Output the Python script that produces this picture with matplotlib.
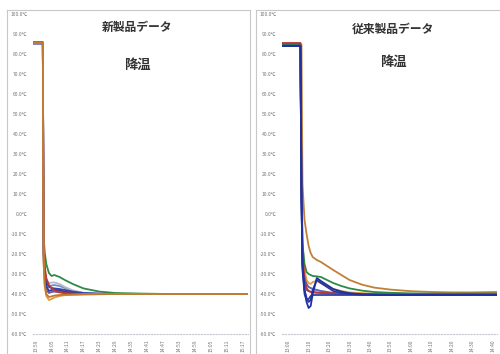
import matplotlib.pyplot as plt

plt.rcParams['font.family'] = ['Noto Sans CJK JP', 'DejaVu Sans']

# y axis (both charts)
y_ticks = [100, 90, 80, 70, 60, 50, 40, 30, 20, 10, 0, -10, -20, -30, -40, -50, -60]

# ---- new product (left) ----
left_title = "新製品データ"
left_ticks = [0, 6, 12, 18, 24, 30, 36, 42, 48, 54, 60, 66, 72, 78]
left_labels = ["13:59", "14:05", "14:11", "14:17", "14:23", "14:29", "14:35",
               "14:41", "14:47", "14:53", "14:59", "15:05", "15:11", "15:17"]
t_left = [-1, 2.7, 3.0, 3.4, 4, 5, 6, 7, 9, 11, 14, 18, 24, 30, 40, 50, 60, 70, 80]
left_series = {
    "#2e8a45": [86.0, 86.0, -11.0, -19.0, -25.0, -29.5, -31.0, -30.5, -31.5, -33.0, -35.0, -37.2, -38.8, -39.5, -39.8, -40.0, -40.0, -40.0, -40.0],
    "#6f8fc8": [85.4, 85.4, -20.0, -30.0, -35.0, -36.0, -35.8, -35.5, -36.0, -37.0, -38.5, -39.5, -39.9, -40.0, -40.0, -40.0, -40.0, -40.0, -40.0],
    "#b8b8c8": [85.4, 85.4, -20.0, -29.0, -33.5, -34.5, -34.3, -34.2, -35.0, -36.5, -38.2, -39.4, -39.9, -40.0, -40.0, -40.0, -40.0, -40.0, -40.0],
    "#7a4fa0": [85.4, 85.4, -22.0, -32.0, -38.0, -39.5, -39.0, -38.8, -39.2, -39.6, -39.8, -40.0, -40.0, -40.0, -40.0, -40.0, -40.0, -40.0, -40.0],
    "#3848a8": [85.3, 85.3, -18.0, -28.0, -34.0, -36.5, -37.0, -37.2, -37.5, -38.0, -38.8, -39.5, -39.8, -40.0, -40.0, -40.0, -40.0, -40.0, -40.0],
    "#2c3c98": [85.3, 85.3, -20.0, -30.0, -36.0, -38.5, -38.0, -37.8, -38.2, -38.8, -39.4, -39.8, -40.0, -40.0, -40.0, -40.0, -40.0, -40.0, -40.0],
    "#b83838": [85.5, 85.5, -16.0, -26.0, -32.0, -35.5, -37.0, -38.0, -39.0, -39.5, -39.8, -40.0, -40.0, -40.0, -40.0, -40.0, -40.0, -40.0, -40.0],
    "#e09a40": [85.6, 85.6, -24.0, -36.0, -41.0, -43.0, -42.5, -41.8, -41.0, -40.6, -40.4, -40.2, -40.1, -40.0, -40.0, -40.0, -40.0, -40.0, -40.0],
    "#c07a30": [85.5, 85.5, -24.0, -35.0, -40.0, -41.5, -41.2, -40.8, -40.5, -40.4, -40.3, -40.2, -40.1, -40.0, -40.0, -40.0, -40.0, -40.0, -40.0],
}

# ---- conventional product (right) ----
right_title = "従来製品データ"
right_ticks = [0, 10, 20, 30, 40, 50, 60, 70, 80, 90, 100]
right_labels = ["13:00", "13:10", "13:20", "13:30", "13:40", "13:50",
                "14:00", "14:10", "14:20", "14:30", "14:40"]
t_right = [-3, 6.0, 6.5, 7.0, 8, 9, 10, 11, 12, 14, 16, 19, 22, 26, 30, 36, 42, 50, 60, 70, 80, 90, 102]
right_series = {
    "#c08038": [85.2, 85.2, 84.8, 15.0, -3.0, -10.0, -16.0, -19.5, -21.5, -23.0, -24.0, -26.0, -28.0, -30.5, -33.0, -35.3, -36.8, -37.8, -38.6, -39.0, -39.2, -39.2, -39.0],
    "#c0c0cc": [85.0, 85.0, 20.0, -20.0, -30.0, -35.0, -36.5, -37.0, -37.5, -38.0, -38.5, -39.0, -39.4, -39.7, -39.9, -40.0, -40.0, -40.0, -40.0, -40.0, -40.0, -40.0, -40.0],
    "#7a4fa0": [84.5, 84.5, 15.0, -22.0, -34.0, -38.0, -38.5, -38.8, -39.0, -39.3, -39.5, -39.7, -39.9, -40.0, -40.0, -40.0, -40.0, -40.0, -40.0, -40.0, -40.0, -40.0, -40.0],
    "#5068b8": [84.3, 84.3, 10.0, -25.0, -30.0, -35.0, -36.5, -37.0, -37.5, -38.0, -38.5, -39.0, -39.5, -39.8, -40.0, -40.2, -40.3, -40.3, -40.3, -40.3, -40.3, -40.3, -40.3],
    "#e0a040": [85.2, 85.2, 20.0, -15.0, -28.0, -33.0, -34.5, -35.0, -34.0, -33.5, -34.5, -36.0, -37.5, -38.5, -39.2, -39.6, -39.8, -39.9, -40.0, -40.0, -40.0, -40.0, -40.0],
    "#2e8a45": [85.0, 85.0, 20.0, -15.0, -25.0, -29.0, -30.0, -30.5, -31.0, -31.2, -31.5, -33.0, -34.5, -36.0, -37.2, -38.3, -39.0, -39.4, -39.7, -39.8, -39.8, -39.8, -39.8],
    "#b83838": [85.5, 85.5, 20.0, -20.0, -32.0, -37.0, -38.5, -39.0, -39.2, -39.3, -39.4, -39.5, -39.6, -39.7, -39.8, -39.9, -40.0, -40.0, -40.0, -40.0, -40.0, -40.0, -40.0],
    "#3040a8": [84.0, 84.0, 10.0, -28.0, -40.0, -43.0, -42.5, -41.0, -40.5, -40.5, -40.5, -40.5, -40.5, -40.5, -40.5, -40.5, -40.5, -40.5, -40.5, -40.5, -40.5, -40.5, -40.5],
    "#2838a0": [84.2, 84.2, 10.0, -26.0, -38.0, -42.0, -44.0, -43.0, -38.0, -33.0, -34.5, -36.5, -38.5, -39.5, -40.0, -40.3, -40.4, -40.5, -40.5, -40.5, -40.5, -40.5, -40.5],
    "#2030a0": [84.0, 84.0, 10.0, -25.0, -38.0, -44.0, -47.0, -46.0, -40.0, -32.0, -33.5, -35.5, -37.5, -38.8, -39.6, -40.2, -40.4, -40.5, -40.5, -40.5, -40.5, -40.4, -40.5],
}


def draw(ax, t, series, ticks, labels, xlim, title, title_x, title_y, sub_x, sub_y):
    for color, vals in series.items():
        ax.plot(t, vals, color=color, lw=1.3)
    ax.set_xlim(*xlim)
    ax.set_ylim(-60, 100)
    ax.set_yticks(y_ticks)
    ax.set_yticklabels([f"{v:.1f}℃" for v in y_ticks], fontsize=3.6, color="#777777")
    ax.set_xticks(ticks)
    ax.set_xticklabels(labels, rotation=90, fontsize=3.6, color="#777777")
    ax.tick_params(length=0, pad=4)
    for s in ["top", "right", "left"]:
        ax.spines[s].set_visible(False)
    ax.spines["bottom"].set_color("#c8c8d0")
    ax.spines["bottom"].set_linestyle(":")
    ax.spines["bottom"].set_linewidth(0.8)
    fig.text(title_x, title_y, title, fontsize=8.5, fontweight="bold",
             ha="center", va="center", color="#333333")
    fig.text(sub_x, sub_y, "降温", fontsize=9.5, fontweight="bold",
             ha="center", va="center", color="#333333")


W, H = 500, 354
fig = plt.figure(figsize=(5, 3.54), dpi=100)

ax1 = fig.add_axes([33 / W, 20 / H, 215 / W, 320 / H])
draw(ax1, t_left, left_series, left_ticks, left_labels, (-1, 80),
     left_title, 137 / W, 1 - 27 / H, 137 / W, 1 - 65 / H)

ax2 = fig.add_axes([282 / W, 20 / H, 215 / W, 320 / H])
draw(ax2, t_right, right_series, right_ticks, right_labels, (-3, 102),
     right_title, 393 / W, 1 - 29 / H, 393 / W, 1 - 62 / H)

# chart area borders
border = dict(color="#c8c8c8", lw=0.8)
fig.add_artist(plt.Line2D([7 / W, 250 / W], [1 - 10 / H, 1 - 10 / H], **border))
fig.add_artist(plt.Line2D([7 / W, 7 / W], [0, 1 - 10 / H], **border))
fig.add_artist(plt.Line2D([250 / W, 250 / W], [0, 1 - 10 / H], **border))
fig.add_artist(plt.Line2D([256 / W, 499 / W], [1 - 10 / H, 1 - 10 / H], **border))
fig.add_artist(plt.Line2D([256 / W, 256 / W], [0, 1 - 10 / H], **border))

fig.savefig("out.png", dpi=100)
